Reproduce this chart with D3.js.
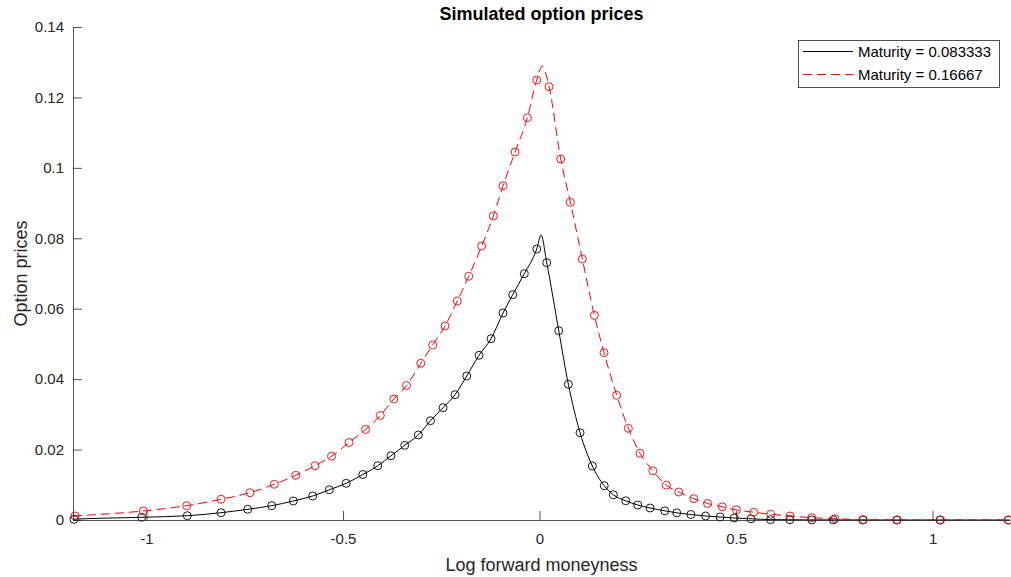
<!DOCTYPE html>
<html>
<head>
<meta charset="utf-8">
<script src="https://cdn.jsdelivr.net/npm/d3@7"></script>
<style>
  html, body { margin: 0; padding: 0; background: #fff; }
  svg { display: block; font-family: "Liberation Sans", Arial, Helvetica, sans-serif; }
</style>
</head>
<body>
<svg id="chart" width="1011" height="577"></svg>
<script>
// Simulated prices, maturity 1/12 (log forward moneyness, price)
const shortX = [-1.1845, -1.0122, -0.8962, -0.8104, -0.7425, -0.6814, -0.6265, -0.5771, -0.5349, -0.4919,
  -0.4496, -0.4117, -0.3779, -0.3430, -0.3084, -0.2774, -0.2455, -0.2150, -0.1852, -0.1539,
  -0.1234, -0.0929, -0.0682, -0.0387, -0.0071,
  0.0183, 0.0489, 0.0733, 0.1031, 0.1344, 0.1646, 0.1878, 0.2193, 0.2499, 0.2812,
  0.3186, 0.3491, 0.3850, 0.4224, 0.4593, 0.4954, 0.5382, 0.5878, 0.6369, 0.6926,
  0.7476, 0.8224, 0.9089, 1.0191, 1.1929];
const shortY = [0.00020, 0.00077, 0.00122, 0.00207, 0.00304, 0.00406, 0.00540, 0.00682, 0.00858, 0.01042,
  0.01292, 0.01539, 0.01823, 0.02121, 0.02414, 0.02820, 0.03189, 0.03558, 0.04089, 0.04677,
  0.05149, 0.05878, 0.06398, 0.06994, 0.07696,
  0.07307, 0.05376, 0.03854, 0.02479, 0.01533, 0.00974, 0.00716, 0.00545, 0.00426, 0.00341,
  0.00261, 0.00204, 0.00156, 0.00114, 0.00085, 0.00057, 0.00034, 0.00011, 0.00006, 0.00003,
  0.00002, 0.00001, 0.00000, 0.00000, 0.00000];

// Simulated prices, maturity 1/6
const longX = [-1.1819, -1.0081, -0.8977, -0.8104, -0.7366, -0.6748, -0.6204, -0.5712, -0.5293, -0.4847,
  -0.4427, -0.4051, -0.3707, -0.3384, -0.3020, -0.2718, -0.2405, -0.2092, -0.1802, -0.1471,
  -0.1176, -0.0929, -0.0623, -0.0310, -0.0071,
  0.0242, 0.0539, 0.0784, 0.1089, 0.1394, 0.1641, 0.1964, 0.2260, 0.2557, 0.2883,
  0.3226, 0.3542, 0.3924, 0.4275, 0.4651, 0.5008, 0.5450, 0.5885, 0.6374, 0.6926,
  0.7519, 0.8239, 0.9104, 1.0204, 1.1929];
const longY = [0.00114, 0.00256, 0.00406, 0.00588, 0.00775, 0.01014, 0.01269, 0.01542, 0.01812, 0.02201,
  0.02570, 0.02968, 0.03436, 0.03819, 0.04450, 0.04970, 0.05509, 0.06219, 0.06920, 0.07781,
  0.08633, 0.09493, 0.10450, 0.11424, 0.12495,
  0.12305, 0.10252, 0.09022, 0.07412, 0.05813, 0.04751, 0.03541, 0.02604, 0.01894, 0.01397,
  0.00988, 0.00795, 0.00605, 0.00469, 0.00375, 0.00290, 0.00219, 0.00165, 0.00114, 0.00065,
  0.00037, 0.00009, 0.00003, 0.00001, 0.00000];

// Model curve apex (at-the-money) and end values
const shortPeak = [0.004, 0.0809];
const longPeak = [0.007, 0.1289];
const shortEnds = [[-1.187, 0.00018], [1.197, 0.0]];
const longEnds = [[-1.187, 0.00110], [1.197, 0.0]];

const xDomain = [-1.187, 1.197];
const yDomain = [0, 0.14];
const xTicks = [-1, -0.5, 0, 0.5, 1];
const yTicks = [0, 0.02, 0.04, 0.06, 0.08, 0.1, 0.12, 0.14];
const seriesNames = ["Maturity = 0.083333", "Maturity = 0.16667"];

const svg = d3.select("#chart");
const margin = { left: 73, right: 1010, top: 27, bottom: 520 };
const axisColor = "#262626";

const x = d3.scaleLinear().domain(xDomain).range([margin.left, margin.right]);
const y = d3.scaleLinear().domain(yDomain).range([margin.bottom, margin.top]);

// Sample points plus apex and end points, ordered along x
function buildCurve(xs, ys, peak, ends) {
  const pts = xs.map((v, i) => [v, ys[i]]);
  pts.push(peak, ends[0], ends[1]);
  pts.sort((a, b) => a[0] - b[0]);
  return pts;
}

const lineGen = d3.line().x(d => x(d[0])).y(d => y(d[1])).curve(d3.curveMonotoneX);

const plot = svg.append("g");
plot.append("path")
  .attr("d", lineGen(buildCurve(shortX, shortY, shortPeak, shortEnds)))
  .attr("fill", "none").attr("stroke", "#000").attr("stroke-width", 1);
plot.append("path")
  .attr("d", lineGen(buildCurve(longX, longY, longPeak, longEnds)))
  .attr("fill", "none").attr("stroke", "#ff0000").attr("stroke-width", 1)
  .attr("stroke-dasharray", "9,5");

plot.selectAll("circle.short").data(shortX).join("circle")
  .attr("class", "short")
  .attr("cx", d => x(d)).attr("cy", (d, i) => y(shortY[i])).attr("r", 4)
  .attr("fill", "none").attr("stroke", "#000").attr("stroke-width", 0.9);
plot.selectAll("circle.long").data(longX).join("circle")
  .attr("class", "long")
  .attr("cx", d => x(d)).attr("cy", (d, i) => y(longY[i])).attr("r", 4)
  .attr("fill", "none").attr("stroke", "#ff0000").attr("stroke-width", 0.9);

// Axes with inward ticks
const fmt = d => d3.format("~g")(d).replace("\u2212", "-");
const xAxis = d3.axisBottom(x).tickValues(xTicks).tickSizeInner(-9).tickSizeOuter(0)
  .tickPadding(13).tickFormat(fmt);
const gx = svg.append("g").attr("transform", `translate(0,${margin.bottom})`).call(xAxis);
const yAxis = d3.axisLeft(y).tickValues(yTicks).tickSizeInner(-9).tickSizeOuter(0)
  .tickPadding(9).tickFormat(fmt);
const gy = svg.append("g").attr("transform", `translate(${margin.left},0)`).call(yAxis);

[gx, gy].forEach(g => {
  g.select(".domain").attr("stroke", axisColor).attr("stroke-width", 0.8);
  g.selectAll(".tick line").attr("stroke", axisColor).attr("stroke-width", 0.8);
  g.selectAll(".tick text").attr("fill", axisColor)
    .style("font-size", "15px").style("font-family", "'Liberation Sans', Arial, sans-serif");
});

// Title and axis labels
svg.append("text").attr("x", (margin.left + margin.right) / 2).attr("y", 20)
  .attr("text-anchor", "middle").attr("font-weight", "bold").attr("font-size", 18)
  .attr("fill", "#000").text("Simulated option prices");
svg.append("text").attr("x", (margin.left + margin.right) / 2).attr("y", 571)
  .attr("text-anchor", "middle").attr("font-size", 18).attr("fill", axisColor)
  .text("Log forward moneyness");
svg.append("text").attr("transform", `translate(27,${(margin.top + margin.bottom) / 2}) rotate(-90)`)
  .attr("text-anchor", "middle").attr("font-size", 18).attr("fill", axisColor)
  .text("Option prices");

// Legend
const lg = svg.append("g");
lg.append("rect").attr("x", 798.5).attr("y", 40.5).attr("width", 201).attr("height", 47)
  .attr("fill", "#fff").attr("stroke", axisColor).attr("stroke-width", 0.8);
const legendRows = [
  { name: seriesNames[0], color: "#000", dash: null, yy: 51.5 },
  { name: seriesNames[1], color: "#ff0000", dash: "9,5", yy: 74.5 }
];
legendRows.forEach(r => {
  lg.append("line").attr("x1", 803).attr("x2", 853).attr("y1", r.yy).attr("y2", r.yy)
    .attr("stroke", r.color).attr("stroke-width", 1)
    .attr("stroke-dasharray", r.dash);
  lg.append("text").attr("x", 858).attr("y", r.yy + 5.5).attr("font-size", 15)
    .attr("fill", "#000").text(r.name);
});
</script>
</body>
</html>
